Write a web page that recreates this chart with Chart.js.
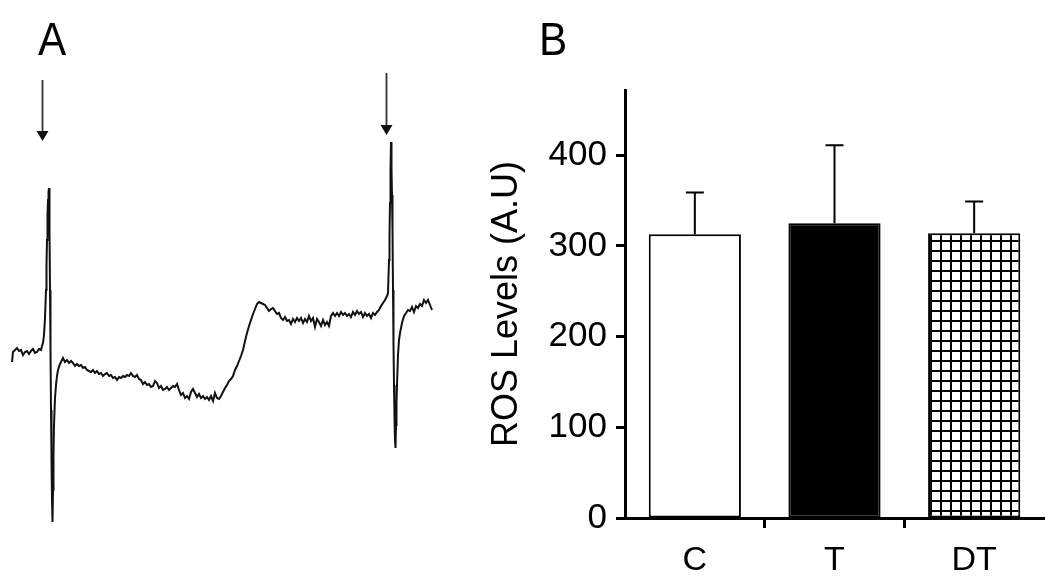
<!DOCTYPE html>
<html>
<head>
<meta charset="utf-8">
<script src="https://cdn.jsdelivr.net/npm/chart.js@4.4.0/dist/chart.umd.min.js"></script>
<style>
  body { margin: 0; background: #fff; }
  #wrap { position: relative; width: 1050px; height: 582px; overflow: hidden; font-family: "Liberation Sans", Arial, sans-serif; }
  canvas { position: absolute; top: 0; }
  #traceChart { left: 0; }
  #rosChart { left: 460px; }
  .panel { position: absolute; font-size: 46px; line-height: 46px; color: #000; top: 16px; transform: scaleX(0.92); transform-origin: left top; }
</style>
</head>
<body>
<div id="wrap">
  <canvas id="traceChart" width="450" height="582"></canvas>
  <canvas id="rosChart" width="590" height="582"></canvas>
  <div class="panel" style="left:38px">A</div>
  <div class="panel" style="left:539px">B</div>
</div>
<script>
// panel A: EPR trace (arbitrary field units / arbitrary intensity)
const traceField = [
  12,13,15,17,19,21,23,25,27,29,
  31,33,35,37,39,41,42,43,44,45,
  46,46.5,47,47.5,48,48.5,49,49.5,50,50.5,
  51,51.5,52,52.5,53,53.5,54,55,56,57,
  58,60,62,63,65,67,69,71,73,75,
  77,79,81,83,85,87,89,91,93,95,
  97,99,101,103,105,107,109,111,113,115,
  117,119,121,123,125,127,129,131,133,135,
  137,139,141,143,145,147,149,151,153,155,
  157,159,161,163,165,167,169,171,173,175,
  177,179,181,183,185,187,189,191,193,195,
  197,199,201,203,205,207,209,211,213,215,
  217,219,221,223,225,227,229,231,233,235,
  237,239,241,243,245,247,249,251,253,255,
  257,259,261,263,265,267,269,271,273,275,
  277,279,281,283,285,287,289,291,293,295,
  297,299,301,303,305,307,309,311,313,315,
  317,319,321,323,325,327,329,331,333,335,
  337,339,341,343,345,347,349,351,353,355,
  357,359,361,363,365,367,369,371,373,375,
  377,379,381,383,385,387,388,389,389.5,390,
  390.5,391,391.5,392,392.5,393,393.5,394,394.5,395,
  395.5,396,396.5,397,398,399,400,402,404,406,
  408,410,412,414,416,418,420,422,424,426,
  428,430,432
];
const traceSignal = [
  38,48,50,52,49,50,45,48,49,46,
  49,51,47,48,51,50,54,57,65,82,
  110,135,160,185,200,208,212,170,110,50,
  -10,-60,-100,-122,-90,-55,-25,2,15,24,
  30,36,40,42,38,40,37,39,37,34,
  36,34,35,32,33,30,29,28,30,27,
  29,26,27,24,26,27,24,25,22,23,
  20,23,22,24,23,25,24,27,24,23,
  25,21,20,16,18,15,16,13,14,19,
  17,12,14,10,11,13,10,12,14,13,
  16,10,5,7,2,4,1,8,11,7,
  3,6,2,4,1,3,0,4,-1,7,
  2,1,4,8,12,15,19,21,24,30,
  34,39,44,50,59,67,74,80,86,91,
  96,98,97,96,95,92,89,91,92,89,
  86,87,82,80,83,79,80,76,81,78,
  82,79,82,77,81,78,84,79,82,73,
  81,78,74,80,75,78,74,84,87,84,
  87,84,88,85,87,84,86,83,88,85,
  89,86,88,83,87,84,86,82,87,85,
  88,90,94,97,100,104,107,140,165,197,
  230,258,230,205,170,110,55,15,-18,-40,
  -48,-25,-3,15,45,60,67,77,84,87,
  90,89,93,88,94,92,96,94,100,97,
  100,95,90
];
const arrowField = [42.5, 386.5];
const arrowFrom = [320, 327];
const arrowTo = [259, 265];

// panel B: ROS levels
const groups = ['C', 'T', 'DT'];
const rosMean = [313, 325, 314];
const rosSem = [46, 86, 35];
const yTicksB = [0, 100, 200, 300, 400];

const arrowPlugin = {
    id: 'arrows',
    afterDatasetsDraw(chart) {
        const ctx = chart.ctx;
        const xs = chart.scales.x, ys = chart.scales.y;
        ctx.save();
        ctx.strokeStyle = '#333';
        ctx.fillStyle = '#111';
        ctx.lineWidth = 1.8;
        arrowField.forEach((f, i) => {
            const x = xs.getPixelForValue(f);
            const y0 = ys.getPixelForValue(arrowFrom[i]);
            const y1 = ys.getPixelForValue(arrowTo[i]);
            ctx.beginPath();
            ctx.moveTo(x, y0);
            ctx.lineTo(x, y1 - 8);
            ctx.stroke();
            ctx.beginPath();
            ctx.moveTo(x - 6, y1 - 10);
            ctx.lineTo(x + 6, y1 - 10);
            ctx.lineTo(x, y1);
            ctx.closePath();
            ctx.fill();
        });
        ctx.restore();
    }
};

new Chart(document.getElementById('traceChart'), {
    type: 'line',
    data: {
        datasets: [{
            data: traceField.map((f, i) => ({ x: f, y: traceSignal[i] })),
            borderColor: '#111',
            borderWidth: 2,
            pointRadius: 0,
            tension: 0
        }]
    },
    options: {
        responsive: false,
        animation: false,
        devicePixelRatio: 1,
        layout: { padding: 0 },
        plugins: { legend: { display: false }, tooltip: { enabled: false } },
        scales: {
            x: { type: 'linear', min: 0, max: 450, display: false },
            y: { min: -182, max: 400, display: false }
        }
    },
    plugins: [arrowPlugin]
});

// grid fill for DT bar
const pc = document.createElement('canvas');
pc.width = 10; pc.height = 10;
const pctx = pc.getContext('2d');
pctx.fillStyle = '#fff';
pctx.fillRect(0, 0, 10, 10);
pctx.fillStyle = '#000';
pctx.fillRect(0, 0, 10, 2);
pctx.fillRect(0, 0, 2, 10);
const gridFill = pctx.createPattern(pc, 'repeat');

const errorBars = {
    id: 'errorBars',
    afterDatasetsDraw(chart) {
        const ctx = chart.ctx;
        const ys = chart.scales.y;
        const meta = chart.getDatasetMeta(0);
        ctx.save();
        ctx.strokeStyle = '#000';
        ctx.lineWidth = 2;
        meta.data.forEach((bar, i) => {
            const top = ys.getPixelForValue(rosMean[i] + rosSem[i]);
            ctx.beginPath();
            ctx.moveTo(bar.x, bar.y);
            ctx.lineTo(bar.x, top);
            ctx.moveTo(bar.x - 9, top);
            ctx.lineTo(bar.x + 9, top);
            ctx.stroke();
        });
        ctx.restore();
    }
};

const font = '"Liberation Sans", Arial, sans-serif';

new Chart(document.getElementById('rosChart'), {
    type: 'bar',
    data: {
        labels: groups,
        datasets: [{
            data: rosMean,
            backgroundColor: ['#fff', '#000', gridFill],
            borderColor: '#000',
            borderWidth: 2,
            borderSkipped: false,
            barPercentage: 0.66,
            categoryPercentage: 1
        }]
    },
    options: {
        responsive: false,
        animation: false,
        devicePixelRatio: 1,
        layout: { padding: { top: 90, right: 6, left: 0, bottom: 0 } },
        plugins: { legend: { display: false }, tooltip: { enabled: false } },
        scales: {
            x: {
                afterFit: s => { s.height = 64; },
                grid: {
                    drawOnChartArea: false,
                    drawTicks: true,
                    tickLength: 10,
                    tickWidth: 3,
                    tickColor: c => (c.index === 1 || c.index === 2) ? '#000' : 'rgba(0,0,0,0)'
                },
                border: { display: true, color: '#000', width: 3 },
                ticks: { color: '#000', padding: 12, font: { family: font, size: 34 } }
            },
            y: {
                min: 0,
                max: 472,
                afterFit: s => { s.width = 165; },
                afterBuildTicks: s => { s.ticks = yTicksB.map(v => ({ value: v })); },
                grid: { drawOnChartArea: false, tickLength: 9, tickWidth: 3, tickColor: '#000' },
                border: { display: true, color: '#000', width: 3 },
                ticks: { color: '#000', padding: 9, font: { family: font, size: 35 } },
                title: {
                    display: true,
                    text: 'ROS Levels (A.U)',
                    color: '#000',
                    padding: { top: 25, bottom: 0 },
                    font: { family: font, size: 36, weight: 'normal' }
                }
            }
        }
    },
    plugins: [errorBars]
});
</script>
</body>
</html>
